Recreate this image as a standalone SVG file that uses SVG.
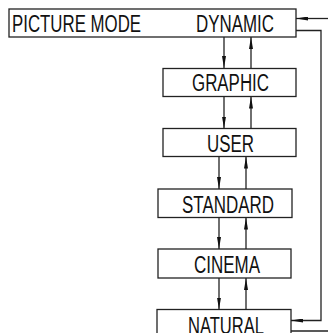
<svg xmlns="http://www.w3.org/2000/svg" width="328" height="333" viewBox="0 0 328 333">
<style>
rect{fill:#fff;stroke:#222;stroke-width:1.3}
text{font-family:"Liberation Sans",Arial,sans-serif;font-size:23px;fill:#111}
.c path{fill:none;stroke:#222;stroke-width:1.3}
</style>
<defs>
<marker id="ah" viewBox="0 0 12 4" refX="12" refY="2" markerWidth="12" markerHeight="4" markerUnits="userSpaceOnUse" orient="auto">
<path d="M0,0 L12,2 L0,4 Z" fill="#111"/>
</marker>
</defs>
<g id="dynamic"><rect x="9" y="9" width="287" height="28"/>
<text x="12" y="32" textLength="129" lengthAdjust="spacingAndGlyphs">PICTURE MODE</text>
<text x="196" y="32" textLength="78" lengthAdjust="spacingAndGlyphs">DYNAMIC</text></g>
<g id="graphic"><rect x="163" y="68.5" width="133" height="28"/>
<text x="192" y="91" textLength="77" lengthAdjust="spacingAndGlyphs">GRAPHIC</text></g>
<g id="user"><rect x="163" y="128.5" width="133" height="28"/>
<text x="207" y="152" textLength="47" lengthAdjust="spacingAndGlyphs">USER</text></g>
<g id="standard"><rect x="158" y="189" width="134" height="28.5"/>
<text x="182" y="212.5" textLength="92" lengthAdjust="spacingAndGlyphs">STANDARD</text></g>
<g id="cinema"><rect x="158" y="249" width="133" height="29"/>
<text x="194" y="273" textLength="66" lengthAdjust="spacingAndGlyphs">CINEMA</text></g>
<g id="natural"><rect x="157" y="309.5" width="134" height="40"/>
<text x="188" y="334" textLength="76" lengthAdjust="spacingAndGlyphs">NATURAL</text></g>
<g class="c" id="connectors">
<path d="M224,37 V68" marker-end="url(#ah)"/>
<path d="M251,68 V37" marker-end="url(#ah)"/>
<path d="M224,96.5 V128.5" marker-end="url(#ah)"/>
<path d="M251,128.5 V96.5" marker-end="url(#ah)"/>
<path d="M219,156.5 V189" marker-end="url(#ah)"/>
<path d="M246,189 V156.5" marker-end="url(#ah)"/>
<path d="M219,217.5 V249" marker-end="url(#ah)"/>
<path d="M246,249 V217.5" marker-end="url(#ah)"/>
<path d="M219,278 V309.5" marker-end="url(#ah)"/>
<path d="M246,309.5 V278" marker-end="url(#ah)"/>
<path d="M296,30.5 H321 V320.5 H291" marker-end="url(#ah)"/>
<path d="M328,18.5 H296" marker-end="url(#ah)"/>
<path d="M291,331 H328"/>
</g>
</svg>
